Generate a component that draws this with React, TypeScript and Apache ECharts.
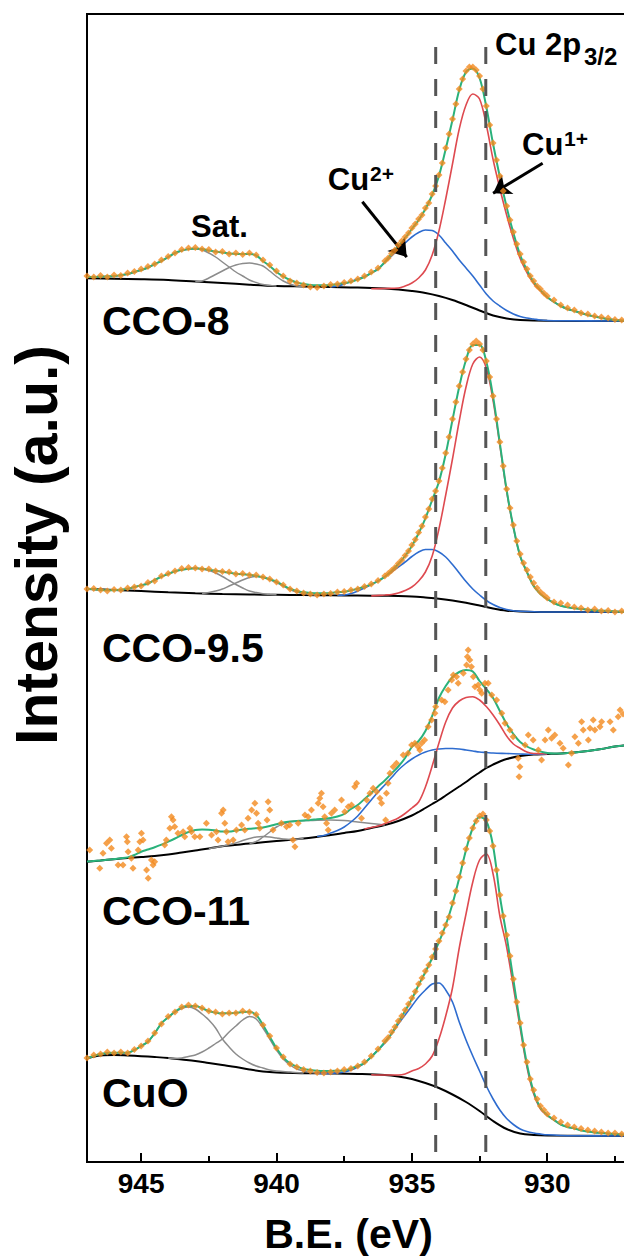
import React, { useEffect, useRef } from "react";
import * as echarts from "echarts";

const FONT = '"Liberation Sans", Arial, Helvetica, sans-serif';

// ---------- axis / layout data ----------
const X_MIN = 925;
const X_MAX = 947;
const TICK_LABELS = [945, 940, 935, 930];
const Y_MAX = 1148;
const SAMPLES = ["CCO-8", "CCO-9.5", "CCO-11", "CuO"];
const OFFSETS = [841, 550, 300, 26];
const REF_LINES = [934.12, 932.27];
const REF_LINE_TOP = 1115;

// binding energy grid for envelopes (eV)
const ENERGY = [
  947, 946.75, 946.5, 946.25, 946, 945.75, 945.5, 945.25, 945, 944.75,
  944.5, 944.25, 944, 943.75, 943.5, 943.25, 943, 942.75, 942.5, 942.25,
  942, 941.75, 941.5, 941.25, 941, 940.75, 940.5, 940.25, 940, 939.75,
  939.5, 939.25, 939, 938.75, 938.5, 938.25, 938, 937.75, 937.5, 937.25,
  937, 936.75, 936.5, 936.25, 936, 935.75, 935.5, 935.25, 935, 934.75,
  934.5, 934.25, 934, 933.75, 933.5, 933.25, 933, 932.75, 932.5, 932.25,
  932, 931.75, 931.5, 931.25, 931, 930.75, 930.5, 930.25, 930, 929.75,
  929.5, 929.25, 929, 928.75, 928.5, 928.25, 928, 927.75, 927.5, 927.25, 927,
];

// ---------- CCO-8 ----------
const ENV_CCO8 = [
  44, 44, 44.5, 44.7, 45, 46, 47, 49, 51, 53.5,
  57, 60, 64, 68, 70.5, 72, 72.5, 72, 70.5, 69.5,
  68.5, 67.5, 67, 67, 67, 65.5, 60, 55, 49, 44.5,
  41, 38.5, 37, 36, 35.7, 35.7, 36, 36.7, 38, 39,
  41.5, 44, 48, 52, 59, 67, 75, 83, 92, 101,
  112, 126, 145, 172, 201, 231, 249, 252.5, 243, 214,
  177, 144, 114, 88, 66, 51, 39, 31, 24, 19,
  15, 12, 10, 8, 6, 4.5, 3, 2, 1, 0.5, 0,
];
const BG_CCO8 = [[947, 42.7], [946, 42.3], [945, 41.8], [944, 41], [943, 39.5], [942, 38], [941, 36.3], [940, 35], [939, 34.5], [938, 34], [937, 33.5], [936, 32.5], [935.5, 31.5], [935, 30], [934.5, 28], [934, 25], [933.5, 21], [933, 16], [932.5, 10.5], [932, 5.5], [931.5, 2.5], [931, 1], [930, 0.2], [927, 0]];
const CU1_CCO8 = [[936.5, 32.2], [936, 32.5], [935.5, 33], [935.25, 35], [935, 38], [934.75, 43], [934.5, 51], [934.25, 66], [934, 90], [933.75, 122], [933.5, 157], [933.25, 192], [933, 216], [932.75, 227], [932.5, 222], [932.25, 196], [932, 161.5], [931.75, 132.5], [931.5, 106], [931.25, 82.5], [931, 62.5], [930.75, 48.5], [930.5, 37.5], [930.25, 30], [930, 23.5], [929.75, 19], [929.5, 15], [929.25, 12], [929, 10], [928.75, 8], [928.5, 6], [928.25, 4.5], [928, 3], [927.75, 2], [927.5, 1], [927.25, 0.5], [927, 0]];
const CU2_CCO8 = [[938, 34], [937.75, 35], [937.5, 37], [937.25, 39.5], [937, 42], [936.75, 44.5], [936.5, 48], [936.25, 52], [936, 58.5], [935.75, 65], [935.5, 72], [935.25, 78], [935, 84], [934.75, 88.5], [934.5, 91], [934.25, 90.5], [934, 86], [933.75, 78], [933.5, 70], [933.25, 61], [933, 53], [932.75, 45], [932.5, 36], [932.25, 27], [932, 20], [931.75, 15], [931.5, 10.5], [931.25, 7], [931, 4.5], [930.75, 3], [930.5, 2], [930.25, 1], [930, 0.5], [929.5, 0.2], [927, 0]];
const SAT1_CCO8 = [[947, 43.7], [946.5, 44.3], [946, 44.8], [945.5, 46.8], [945, 50.8], [944.75, 53.3], [944.5, 56.8], [944.25, 59.8], [944, 63.8], [943.75, 67.8], [943.5, 70.3], [943.25, 71.8], [943, 72], [942.75, 71], [942.5, 68], [942.25, 64], [942, 59], [941.75, 54], [941.5, 49], [941.25, 45], [941, 41], [940.75, 38.5], [940.5, 36.5], [940.25, 35.5], [940, 35]];
const SAT2_CCO8 = [[943, 39.5], [942.75, 40], [942.5, 43], [942.25, 46.5], [942, 50], [941.75, 53.5], [941.5, 56], [941.25, 57.5], [941, 58], [940.75, 57], [940.5, 55], [940.25, 50], [940, 44.5], [939.75, 40], [939.5, 37], [939.25, 35], [939, 34.5]];
const DOTS_CCO8 = [[947, 45], [946.75, 44], [946.5, 45.5], [946.25, 44], [946, 46], [945.75, 45.5], [945.5, 48], [945.25, 49.5], [945, 52], [944.75, 54.5], [944.5, 57], [944.25, 61], [944, 64.5], [943.75, 68], [943.5, 71.5], [943.25, 73], [943, 73.5], [942.75, 72], [942.5, 71.5], [942.25, 69], [942, 69.5], [941.75, 67], [941.5, 68], [941.25, 66.5], [941, 68], [940.75, 66], [940.5, 61], [940.25, 56], [940, 50], [939.75, 45], [939.5, 40], [939.25, 38], [939, 36], [938.75, 34], [938.5, 33.5], [938.25, 35], [938, 36.5], [937.75, 37], [937.5, 38.5], [937.25, 40], [937, 42], [936.75, 45], [936.5, 49], [936.25, 53], [936, 60], [935.875, 63], [935.75, 67.5], [935.625, 71], [935.5, 76], [935.375, 80], [935.25, 84], [935.125, 88], [935, 93], [934.875, 97], [934.75, 102], [934.625, 106], [934.5, 113], [934.375, 118], [934.25, 127], [934.125, 135], [934, 146], [933.875, 158], [933.75, 173], [933.625, 187], [933.5, 202], [933.375, 217], [933.25, 232], [933.125, 242], [933, 250], [932.875, 254], [932.75, 254], [932.625, 251], [932.5, 245], [932.375, 232], [932.25, 215], [932.125, 196], [932, 178], [931.875, 161], [931.75, 145], [931.625, 130], [931.5, 115], [931.375, 101], [931.25, 89], [931.125, 77], [931, 67], [930.875, 59], [930.75, 52], [930.625, 45], [930.5, 40], [930.375, 35], [930.25, 32], [930.125, 28], [930, 25], [929.75, 21], [929.5, 16], [929.25, 13], [929, 11], [928.75, 8], [928.5, 7], [928.25, 5], [928, 4], [927.75, 3], [927.5, 1.5], [927.25, 1], [927, 0.5]];

// ---------- CCO-9.5 ----------
const ENV_CCO95 = [
  23.3, 22.7, 22, 21.7, 21.7, 22.3, 23.3, 25, 26.7, 28.3,
  32, 35.3, 38, 40.7, 42.3, 43.3, 43.7, 43.3, 42.3, 41.3,
  40.3, 39.3, 38.3, 37.7, 37.3, 36.3, 34.7, 32.7, 30.3, 26.7,
  23.3, 21, 19.7, 19, 18.7, 18.7, 19, 19.7, 20.3, 21.7,
  23.3, 25.3, 27.7, 31, 35.3, 41.3, 48, 56, 66, 78.7,
  93.7, 112, 130.3, 158, 192, 225.3, 252, 267, 267, 250.3,
  215.3, 168.7, 122, 85, 56, 40, 26, 18, 13, 9,
  6.3, 4.7, 3.7, 3, 2.3, 1.7, 1.3, 1, 0.7, 0.3, 0.3,
];
const BG_CCO95 = [[947, 23], [946, 22], [945, 21], [944, 19.7], [943, 18.7], [942, 18], [941, 17.5], [940, 17.2], [939, 17], [938, 16.7], [937, 16.5], [936, 16.2], [935.5, 16], [935, 15.5], [934.5, 14.5], [934, 13.3], [933.5, 11.5], [933, 9.3], [932.5, 6.5], [932, 3.5], [931.5, 1.3], [931, 0.5], [930, 0], [927, 0]];
const CU1_CCO95 = [[936.5, 16.1], [936, 17], [935.75, 17.5], [935.5, 19], [935.25, 21.5], [935, 25], [934.75, 31], [934.5, 40], [934.25, 56], [934, 83], [933.75, 117], [933.5, 153], [933.25, 191], [933, 225], [932.75, 248], [932.5, 255], [932.25, 243.8], [932, 211.3], [931.75, 166.6], [931.5, 120.8], [931.25, 84.5], [931, 55.8], [930.75, 40], [930.5, 26], [930.25, 18], [930, 13], [929.75, 9], [929.5, 6.3], [929.25, 4.7], [929, 3.7], [928.5, 2.3], [928, 1.3], [927.5, 0.7], [927, 0.3]];
const CU2_CCO95 = [[937.75, 16.6], [937.5, 17], [937.25, 18.5], [937, 21], [936.75, 24], [936.5, 27.5], [936.25, 31], [936, 35.3], [935.75, 40], [935.5, 45], [935.25, 50], [935, 55.5], [934.75, 60], [934.5, 62.5], [934.25, 62.5], [934, 60], [933.75, 55], [933.5, 47.5], [933.25, 39], [933, 30.5], [932.75, 23], [932.5, 17], [932.25, 11.5], [932, 7.5], [931.75, 4.5], [931.5, 2.5], [931.25, 1.3], [931, 0.8], [930.5, 0.2], [930, 0], [927, 0]];
const SAT1_CCO95 = [[947, 23.3], [946.5, 22], [946, 21.7], [945.5, 23.3], [945, 26.7], [944.5, 32], [944.25, 35.3], [944, 38], [943.75, 40.7], [943.5, 42.3], [943.25, 43.3], [943, 43.7], [942.75, 43], [942.5, 41.5], [942.25, 39], [942, 35.5], [941.75, 31.5], [941.5, 27.5], [941.25, 24], [941, 21], [940.75, 19.5], [940.5, 18.3], [940.25, 17.7], [940, 17.2]];
const SAT2_CCO95 = [[942.75, 18.5], [942.5, 19.5], [942.25, 21], [942, 23], [941.75, 26], [941.5, 29], [941.25, 32], [941, 34.5], [940.75, 35.5], [940.5, 35], [940.25, 32.5], [940, 29.5], [939.75, 26], [939.5, 22.5], [939.25, 20], [939, 18.5], [938.75, 17.5], [938.5, 17]];
const DOTS_CCO95 = [[947, 23], [946.75, 23.5], [946.5, 22], [946.25, 21], [946, 22.5], [945.75, 22], [945.5, 24], [945.25, 25], [945, 26], [944.75, 29.5], [944.5, 31], [944.25, 36], [944, 38.5], [943.75, 41], [943.5, 43.5], [943.25, 44.5], [943, 44], [942.75, 43], [942.5, 43], [942.25, 41], [942, 40.5], [941.75, 40], [941.5, 38], [941.25, 38.5], [941, 37], [940.75, 37], [940.5, 35], [940.25, 33], [940, 30], [939.75, 27], [939.5, 23], [939.25, 21], [939, 19], [938.75, 18], [938.5, 17], [938.25, 18], [938, 18.5], [937.75, 20], [937.5, 20.5], [937.25, 22], [937, 23], [936.75, 25.5], [936.5, 28], [936.25, 31.5], [936, 36], [935.875, 38.5], [935.75, 41.5], [935.625, 44.5], [935.5, 48.5], [935.375, 52], [935.25, 56.5], [935.125, 61], [935, 67], [934.875, 72.5], [934.75, 79.5], [934.625, 86], [934.5, 95], [934.375, 103], [934.25, 113], [934.125, 121], [934, 131], [933.875, 144], [933.75, 159], [933.625, 175], [933.5, 193], [933.375, 210], [933.25, 226], [933.125, 240], [933, 253], [932.875, 262], [932.75, 268], [932.625, 271], [932.5, 268], [932.375, 262], [932.25, 251], [932.125, 235], [932, 216], [931.875, 193], [931.75, 170], [931.625, 146], [931.5, 123], [931.375, 104], [931.25, 87], [931.125, 71], [931, 58], [930.875, 49], [930.75, 42], [930.625, 35], [930.5, 29], [930.375, 24], [930.25, 20], [930.125, 17], [930, 14], [929.75, 10], [929.5, 9], [929.25, 7], [929, 5], [928.75, 4], [928.5, 2], [928.25, 3], [928, 1], [927.75, 1.5], [927.5, 0], [927.25, 1], [927, 0.5]];

// ---------- CCO-11 ----------
const ENV_CCO11 = [
  0.5, 1, 1.5, 2.2, 3, 3.7, 4.6, 7, 10.3, 12.5,
  14.7, 17.3, 20.3, 23.5, 27, 30, 32, 32.5, 32.3, 31.5,
  30.5, 30.5, 31.5, 32.5, 33.3, 33.8, 34.5, 36, 37.8, 39.5,
  40.5, 41, 41.5, 42, 42.7, 43.3, 44, 45.5, 48, 53,
  57, 63, 69, 75.5, 81.5, 88.5, 95.5, 104, 115, 121,
  131, 146, 164, 176, 185, 190, 192, 190.5, 181, 173,
  164, 151, 138, 128, 120, 115.5, 112.5, 110.5, 109, 108.5,
  108.5, 109, 109.5, 110.2, 111, 112, 113, 114.2, 115.5, 116.2, 117,
];
const BG_CCO11 = [[947, 0.3], [946.5, 1.5], [946, 2.8], [945.5, 4], [945, 5], [944.5, 6], [944, 7.5], [943.5, 9.5], [943, 11.5], [942.5, 13.5], [942, 15.8], [941, 18.4], [940, 21], [939, 23.6], [938, 27], [937.5, 29], [937, 31], [936.5, 34], [936, 37], [935.5, 41], [935, 46.5], [934.75, 50], [934.5, 54], [934.25, 58], [934, 62], [933.75, 66.5], [933.5, 71], [933.25, 75.5], [933, 80], [932.75, 85], [932.5, 89.5], [932.25, 94], [932, 97.5], [931.75, 100.5], [931.5, 103], [931, 106], [930.5, 107.5], [930, 108], [929.5, 108.5], [929, 109.5], [928.5, 111], [928, 113], [927.5, 115.5], [927, 117]];
const CU1_CCO11 = [[936.75, 33], [936.5, 34.5], [936.25, 36], [936, 38.5], [935.75, 41], [935.5, 44], [935.25, 48.5], [935, 54], [934.75, 60], [934.5, 75], [934.25, 96], [934, 119], [933.75, 140], [933.5, 154], [933.25, 161], [933, 164.5], [932.75, 165.3], [932.5, 162], [932.25, 155.5], [932, 147], [931.75, 137], [931.5, 126], [931.25, 118], [931, 113.7], [930.75, 110], [930.5, 108.5], [930.25, 108.3], [930, 108.1]];
const CU2_CCO11 = [[938.5, 25.5], [938.25, 26.5], [938, 29], [937.75, 31.5], [937.5, 35], [937.25, 40], [937, 46], [936.75, 54], [936.5, 62], [936.25, 70], [936, 77], [935.75, 84.5], [935.5, 92], [935.25, 98], [935, 103], [934.75, 107], [934.5, 110], [934.25, 112], [934, 113], [933.75, 113.5], [933.5, 113.5], [933.25, 113], [933, 112], [932.75, 111], [932.5, 110], [932.25, 109.5], [932, 109], [931.5, 108.5], [931, 108], [930.5, 107.7], [930, 108]];
const SAT1_CCO11 = [[942.5, 13.5], [942, 15.8], [941.5, 19], [941.25, 21.5], [941, 23.5], [940.75, 25], [940.5, 25.5], [940.25, 25], [940, 24], [939.75, 23], [939.5, 22.5], [939, 23.6]];
const SAT2_CCO11 = [[941, 18.4], [940.75, 20.5], [940.5, 25], [940.25, 30], [940, 35], [939.75, 38], [939.5, 40.3], [939.25, 41], [939, 41.3], [938.5, 41.8], [938, 42], [937.5, 41.5], [937, 40], [936.5, 38.5], [936, 37]];
const DOTS_CCO11 = [[946.9, 12], [946.53, -6.3], [946.41, 8.7], [946.28, 18.7], [946.16, 22], [946.1, 13.7], [945.85, -3], [945.67, -3], [945.54, 25.3], [945.51, 20.3], [945.48, 10.3], [945.36, 3.7], [945.3, -6.3], [945.11, 12], [945.05, 20.3], [944.99, 28.7], [944.93, 22], [944.8, -8], [944.74, -16.3], [944.62, 2], [944.56, -3], [944.5, 0.3], [944.13, 17], [944.07, 22], [943.94, 33.7], [943.88, 45.3], [943.82, 42], [943.76, 35.3], [943.64, 28.7], [943.45, 30.3], [943.39, 25.3], [943.2, 33.7], [943.14, 30.3], [943.02, 25.3], [942.83, 25.3], [942.59, 38.7], [942.4, 27], [942.22, 30.3], [942.16, 22], [942.03, 48.7], [941.97, 52], [941.91, 38.7], [941.85, 30.3], [941.79, 20.3], [941.6, 22], [941.48, 32], [941.29, 37], [941.17, 32], [941.05, 43.7], [940.92, 52], [940.8, 58.7], [940.74, 48.7], [940.68, 38.7], [940.62, 33.7], [940.31, 60.3], [940.25, 52], [940.35, 42], [940.13, 32], [939.82, 38.7], [939.63, 35.3], [939.51, 37], [939.39, 22], [939.32, 15.3], [939.2, 38.7], [938.95, 47], [938.83, 45.3], [938.71, 52], [938.46, 58.7], [938.4, 63.7], [938.34, 68.7], [938.28, 55.3], [938.22, 45.3], [938.15, 38.7], [938.09, 32], [937.97, 48.7], [937.85, 52], [937.6, 62], [937.48, 50.3], [937.35, 55.3], [937.23, 57], [937.11, 75.3], [937.04, 78.7], [936.98, 53.7], [936.86, 43.7], [936.67, 62], [936.55, 68.7], [936.43, 73.7], [936.3, 70.3], [936.18, 63.7], [936.12, 58.7], [935.94, 68.7], [935.88, 78.7], [935.97, 42], [935.81, 88.7], [935.69, 95.3], [935.57, 98.7], [935.32, 107], [935.14, 108.7], [935.01, 117], [934.89, 118.7], [934.77, 115.3], [934.64, 118.7], [934.71, 112], [934.53, 122], [934.4, 135.3], [934.27, 142], [934.15, 148.7], [934.12, 155.3], [933.9, 162], [933.78, 160.3], [933.66, 172], [933.53, 182], [933.47, 187], [933.35, 185.3], [933.29, 178.7], [933.1, 188.7], [932.98, 197], [932.95, 205.3], [932.92, 212], [932.86, 202], [932.8, 195.3], [932.73, 185.3], [932.67, 175.3], [932.55, 177], [932.49, 172], [932.42, 168.7], [932.3, 178.7], [932.18, 178.7], [932.05, 167], [931.87, 162], [931.68, 148.7], [931.56, 138.7], [931.38, 132], [931.26, 125.3], [931.07, 103.7], [931.04, 85.3], [931.01, 95.3], [930.82, 117], [930.7, 127], [930.52, 122], [930.33, 112], [930.21, 102], [930.08, 122], [929.96, 132], [929.84, 123.7], [929.72, 127], [929.53, 118.7], [929.41, 113.7], [929.22, 97], [929.1, 108.7], [928.98, 125.3], [928.85, 118.7], [928.73, 140.3], [928.67, 132], [928.48, 122], [928.42, 133.7], [928.3, 142], [928.24, 132], [928.05, 135.3], [927.99, 140.3], [927.68, 140.3], [927.56, 132], [927.38, 145.3], [927.31, 152], [927.2, 148]];

// ---------- CuO ----------
const ENV_CUO = [
  77.7, 80, 82, 83, 83.3, 83.3, 83.3, 86, 90, 94.3,
  102.7, 112.7, 118.7, 124.3, 128.7, 130, 130, 127.7, 125, 123.3,
  122.7, 122.7, 123.3, 124, 124.3, 121, 111, 99.3, 87.7, 78.7,
  72.7, 69.3, 67, 66, 65.3, 65, 65, 65.3, 65.5, 67.5,
  70, 73, 79, 86, 94, 102.5, 114, 125, 137, 151,
  164, 178, 194, 211, 232, 258, 286, 308, 319, 315,
  290, 240, 200, 156, 112, 72, 44, 28, 21, 16,
  11.5, 9, 7.5, 5.5, 4.5, 3.5, 3, 2.5, 2, 1.5, 1,
];
const BG_CUO = [[947, 77.7], [946.5, 80.5], [946, 81], [945.5, 80.5], [945, 79.8], [944.5, 79], [944, 78], [943.5, 76.5], [943, 75], [942.5, 73], [942, 71], [941.5, 69], [941, 66.5], [940.5, 64.5], [940, 63.5], [939, 62.8], [938, 62.5], [937, 62], [936, 61], [935.5, 59.5], [935, 57], [934.5, 53], [934, 48], [933.5, 41.5], [933, 34], [932.5, 25], [932, 15], [931.5, 7], [931, 2.5], [930.5, 1], [930, 0.5], [927, 0]];
const CU1_CUO = [[936.5, 61.3], [936, 61], [935.5, 61], [935.25, 62], [935, 65], [934.75, 67.5], [934.5, 72], [934.25, 80], [934, 97], [933.75, 120], [933.5, 148], [933.25, 188], [933, 222], [932.75, 254], [932.5, 276], [932.25, 282], [932, 262], [931.75, 220], [931.5, 189], [931.25, 149], [931, 108], [930.75, 69], [930.5, 42], [930.25, 27], [930, 20.5], [929.75, 16], [929.5, 11.5], [929.25, 9], [929, 7.5], [928.5, 4.5], [928, 3], [927.5, 2], [927, 1]];
const CU2_CUO = [[938.5, 62.6], [938, 62.5], [937.75, 63], [937.5, 64], [937.25, 66], [937, 69], [936.75, 73], [936.5, 79.5], [936.25, 86], [936, 93], [935.75, 102], [935.5, 112], [935.25, 121], [935, 130], [934.75, 139], [934.5, 146], [934.25, 152], [934, 153], [933.75, 146], [933.5, 134], [933.25, 114], [933, 96], [932.75, 80], [932.5, 65], [932.25, 50], [932, 37], [931.75, 26], [931.5, 17.5], [931.25, 11.5], [931, 7], [930.75, 4.5], [930.5, 3], [930.25, 2], [930, 1.2], [929.5, 0.5], [929, 0.2], [927, 0]];
const SAT1_CUO = [[947, 77.7], [946.75, 80], [946.5, 82], [946.25, 83], [946, 83.3], [945.75, 83.3], [945.5, 83.3], [945.25, 86], [945, 90], [944.75, 94.3], [944.5, 102.7], [944.25, 112.7], [944, 118.7], [943.75, 124], [943.5, 127.5], [943.25, 129], [943, 127], [942.75, 122], [942.5, 116], [942.25, 108], [942, 97], [941.75, 89], [941.5, 82], [941.25, 77], [941, 73], [940.75, 70], [940.5, 68], [940.25, 66], [940, 65], [939.5, 64], [939, 63]];
const SAT2_CUO = [[944, 78], [943.75, 77.5], [943.5, 78], [943.25, 79.5], [943, 81], [942.75, 84], [942.5, 88], [942.25, 92.5], [942, 97], [941.75, 104], [941.5, 110], [941.25, 116], [941, 119.5], [940.75, 117], [940.5, 108], [940.25, 97], [940, 86], [939.75, 77], [939.5, 71], [939.25, 67], [939, 65], [938.75, 63.5], [938.5, 63]];
const DOTS_CUO = [[947, 78], [946.75, 81], [946.5, 82], [946.25, 84], [946, 83], [945.75, 84], [945.5, 83], [945.25, 86.5], [945, 90], [944.75, 95], [944.5, 103], [944.25, 112], [944, 119.5], [943.75, 124], [943.5, 129], [943.25, 131], [943, 130], [942.75, 128], [942.5, 125], [942.25, 124], [942, 122], [941.75, 123], [941.5, 123], [941.25, 125], [941, 124], [940.75, 121.5], [940.5, 111], [940.25, 100], [940, 88], [939.75, 79], [939.5, 72], [939.25, 69], [939, 66.5], [938.75, 65], [938.5, 63.5], [938.25, 63], [938, 64], [937.75, 65], [937.5, 66.5], [937.25, 67.5], [937, 70], [936.75, 74], [936.5, 80], [936.25, 87], [936, 95], [935.875, 98.5], [935.75, 104], [935.625, 109], [935.5, 115], [935.375, 120], [935.25, 126], [935.125, 132], [935, 138], [934.875, 144.5], [934.75, 152], [934.625, 158], [934.5, 165], [934.375, 171], [934.25, 179], [934.125, 187], [934, 195], [933.875, 203], [933.75, 211], [933.625, 219], [933.5, 233], [933.375, 245], [933.25, 259], [933.125, 273], [933, 287], [932.875, 298], [932.75, 308], [932.625, 315], [932.5, 320], [932.375, 322], [932.25, 316], [932.125, 305], [932, 290], [931.875, 266], [931.75, 241], [931.625, 220], [931.5, 201], [931.375, 180], [931.25, 157], [931.125, 134], [931, 113], [930.875, 91], [930.75, 74], [930.625, 57], [930.5, 46], [930.375, 37], [930.25, 30], [930.125, 26], [930, 22], [929.75, 18], [929.5, 14], [929.25, 11], [929, 9], [928.75, 7.5], [928.5, 6], [928.25, 5], [928, 4], [927.75, 3], [927.5, 3], [927.25, 2], [927, 2]];

// annotation arrows (eV, absolute a.u.)
const ARROW_CU2 = [[936.83, 960.3], [935.19, 904.9]];
const ARROW_CU1 = [[930.17, 998.7], [932.0, 968.8]];

const COLORS = {
  dots: "#F38A1E",
  env: "#2AB27B",
  cu1: "#DE4A50",
  cu2: "#2E6CCF",
  sat: "#8C8C8C",
  bg: "#000000",
  ref: "#555555",
};

const SPECTRA = [
  { env: ENV_CCO8, bg: BG_CCO8, cu1: CU1_CCO8, cu2: CU2_CCO8, sats: [SAT1_CCO8, SAT2_CCO8], dots: DOTS_CCO8 },
  { env: ENV_CCO95, bg: BG_CCO95, cu1: CU1_CCO95, cu2: CU2_CCO95, sats: [SAT1_CCO95, SAT2_CCO95], dots: DOTS_CCO95 },
  { env: ENV_CCO11, bg: BG_CCO11, cu1: CU1_CCO11, cu2: CU2_CCO11, sats: [SAT1_CCO11, SAT2_CCO11], dots: DOTS_CCO11 },
  { env: ENV_CUO, bg: BG_CUO, cu1: CU1_CUO, cu2: CU2_CUO, sats: [SAT1_CUO, SAT2_CUO], dots: DOTS_CUO },
];

function shiftPairs(pairs: number[][], off: number) {
  return pairs.map((p) => [p[0], p[1] + off]);
}

function lineSeries(data: number[][], color: string, width: number, z: number) {
  return {
    type: "line",
    data,
    showSymbol: false,
    symbol: "none",
    smooth: 0.35,
    silent: true,
    z,
    lineStyle: { color, width },
  };
}

function buildOption() {
  const series: any[] = [];
  SPECTRA.forEach((s, i) => {
    const off = OFFSETS[i];
    series.push(lineSeries(shiftPairs(s.bg, off), COLORS.bg, 2, 2));
    s.sats.forEach((sat) => series.push(lineSeries(shiftPairs(sat, off), COLORS.sat, 1.5, 3)));
    series.push(lineSeries(shiftPairs(s.cu2, off), COLORS.cu2, 1.6, 3));
    series.push(lineSeries(shiftPairs(s.cu1, off), COLORS.cu1, 1.6, 3));
    series.push(lineSeries(s.env.map((v, k) => [ENERGY[k], v + off]), COLORS.env, 2, 4));
    series.push({
      type: "scatter",
      data: shiftPairs(s.dots, off),
      symbol: "diamond",
      symbolSize: 7,
      silent: true,
      z: 5,
      itemStyle: { color: COLORS.dots },
    });
  });
  REF_LINES.forEach((x) => {
    series.push({
      type: "line",
      data: [[x, REF_LINE_TOP], [x, 0]],
      showSymbol: false,
      symbol: "none",
      silent: true,
      z: 6,
      lineStyle: { color: COLORS.ref, width: 3, type: [17, 15] },
    });
  });
  series.push({
    type: "line",
    data: [],
    silent: true,
    z: 7,
    markLine: {
      silent: true,
      symbol: ["none", "arrow"],
      symbolSize: 17,
      label: { show: false },
      emphasis: { disabled: true },
      lineStyle: { color: "#000", width: 3, type: "solid" },
      data: [
        [{ coord: ARROW_CU2[0] }, { coord: ARROW_CU2[1] }],
        [{ coord: ARROW_CU1[0] }, { coord: ARROW_CU1[1] }],
      ],
    },
  });

  const txt = (text: string, x: number, y: number, size: number, align = "left", extra: any = {}) => ({
    type: "text",
    x,
    y,
    silent: true,
    z: 10,
    ...extra,
    style: {
      text,
      fontSize: size,
      fontWeight: "bold",
      fontFamily: FONT,
      fill: "#000",
      align,
      verticalAlign: "middle",
    },
  });

  const labelY = [320.8, 647.5, 910.8, 1092.5];
  const graphic: any[] = [
    txt("Intensity (a.u.)", 37, 545, 59, "center", { rotation: Math.PI / 2 }),
    txt("B.E. (eV)", 348.5, 1234, 41, "center"),
    ...SAMPLES.map((name, i) => txt(name, 102, labelY[i], 41)),
    txt("Cu 2p", 495, 44.3, 31),
    txt("3/2", 584, 56, 24),
    txt("Cu", 522, 144.3, 31),
    txt("1+", 564, 138, 21),
    txt("Cu", 327.8, 179.3, 31),
    txt("2+", 370, 173, 21),
    txt("Sat.", 191, 226.3, 31),
  ];

  return {
    animation: false,
    backgroundColor: "#ffffff",
    grid: {
      left: 87,
      top: 14,
      width: 595.6,
      height: Y_MAX,
      show: true,
      borderColor: "#000",
      borderWidth: 2,
      backgroundColor: "transparent",
      containLabel: false,
      outerBoundsMode: "none",
    },
    xAxis: [
      {
        type: "value",
        inverse: true,
        min: X_MIN,
        max: X_MAX,
        interval: 5,
        axisLine: { show: true, lineStyle: { color: "#000", width: 2 } },
        axisTick: { show: true, inside: true, length: 9, lineStyle: { color: "#000", width: 2 } },
        axisLabel: {
          show: true,
          margin: 7,
          color: "#000",
          fontSize: 28,
          fontWeight: "bold",
          fontFamily: FONT,
          hideOverlap: false,
          formatter: (v: number) => (TICK_LABELS.indexOf(v) >= 0 ? String(v) : ""),
        },
        splitLine: { show: false },
      },
      {
        type: "value",
        inverse: true,
        position: "bottom",
        min: X_MIN,
        max: X_MAX,
        interval: 2.5,
        axisLine: { show: false },
        axisTick: { show: true, inside: true, length: 6, lineStyle: { color: "#000", width: 2 } },
        axisLabel: { show: false },
        splitLine: { show: false },
      },
    ],
    yAxis: { type: "value", min: 0, max: Y_MAX, show: false, splitLine: { show: false } },
    series,
    graphic,
  };
}

export default function App() {
  const ref = useRef<HTMLDivElement>(null);
  useEffect(() => {
    if (!ref.current) return;
    const chart = echarts.init(ref.current, null, { renderer: "svg" });
    chart.setOption(buildOption() as any);
    return () => chart.dispose();
  }, []);
  return (
    <div
      ref={ref}
      style={{ position: "fixed", left: 0, top: 0, width: 624, height: 1259, background: "#fff" }}
    />
  );
}
